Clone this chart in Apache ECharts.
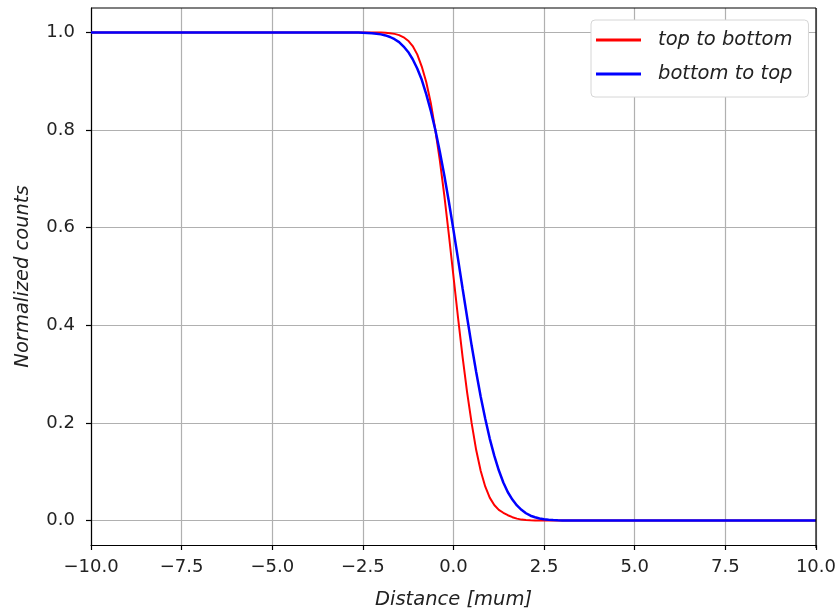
<!DOCTYPE html>
<html>
<head>
<meta charset="utf-8">
<script src="https://cdn.jsdelivr.net/npm/echarts@6/dist/echarts.min.js"></script>
<style>
  html, body { margin: 0; padding: 0; background: #fff; }
  #chart { width: 839px; height: 615px; }
</style>
</head>
<body>
<div id="chart"></div>
<script>
// Sample positions along the profile (µm): flat ends plus a fine step across the edge
const distance = [
  -10, -3, -2.875, -2.75, -2.625, -2.5, -2.375, -2.25, -2.125, -2, -1.875, -1.75, -1.625,
  -1.5, -1.375, -1.25, -1.125, -1, -0.875, -0.75, -0.625, -0.5, -0.375, -0.25, -0.125,
  0, 0.125, 0.25, 0.375, 0.5, 0.625, 0.75, 0.875, 1, 1.125, 1.25, 1.375, 1.5, 1.625,
  1.75, 1.875, 2, 2.125, 2.25, 2.375, 2.5, 2.625, 2.75, 2.875, 3, 10
];
// Normalized counts, scan from top to bottom
const topToBottom = [
  1, 1, 1, 1, 1, 1, 1, 0.9999, 0.9998, 0.9996, 0.9992, 0.9985, 0.997,
  0.9945, 0.990, 0.983, 0.972, 0.955, 0.930, 0.898, 0.855, 0.800, 0.737, 0.664, 0.584,
  0.500, 0.416, 0.336, 0.263, 0.200, 0.145, 0.102, 0.070, 0.047, 0.032, 0.022, 0.016, 0.011, 0.007,
  0.004, 0.002, 0.001, 0.0005, 0.0002, 0, 0, 0, 0, 0, 0, 0
];
// Normalized counts, scan from bottom to top
const bottomToTop = [
  1, 0.9999, 0.9999, 0.9998, 0.9997, 0.9994, 0.999, 0.9984, 0.9974, 0.996, 0.9938, 0.9906, 0.986,
  0.980, 0.971, 0.960, 0.945, 0.926, 0.903, 0.873, 0.839, 0.800, 0.755, 0.706, 0.652,
  0.595, 0.536, 0.476, 0.417, 0.359, 0.305, 0.254, 0.209, 0.168, 0.133, 0.103, 0.078, 0.058, 0.043,
  0.031, 0.022, 0.015, 0.010, 0.0068, 0.0044, 0.0028, 0.0018, 0.0011, 0.0006, 0.0004, 0
];
// Tick positions
const xTicks = [-10, -7.5, -5, -2.5, 0, 2.5, 5, 7.5, 10];
const yTicks = [0, 0.2, 0.4, 0.6, 0.8, 1.0];

const seriesNames = ['top to bottom', 'bottom to top'];

const pairs = (xs, ys) => xs.map((x, i) => [x, ys[i]]);
const fmt = v => v.toFixed(1).replace('-', '\u2212');

const textColor = '#222';
const font = 'DejaVu Sans';

const chart = echarts.init(document.getElementById('chart'), null, { renderer: 'canvas' });
chart.setOption({
  animation: false,
  backgroundColor: '#fff',
  grid: { left: 91, right: 23, top: 8, bottom: 67, containLabel: false },
  legend: {
    left: 591, top: 20,
    orient: 'vertical',
    itemWidth: 45, itemHeight: 3,
    itemGap: 14,
    icon: 'rect',
    padding: [10, 16, 13, 5],
    backgroundColor: '#fff',
    borderColor: '#d6d6d6', borderWidth: 1, borderRadius: 4,
    textStyle: { fontFamily: font, fontStyle: 'italic', fontSize: 19.5, color: textColor, padding: [0, 0, 0, 12] },
    data: seriesNames
  },
  xAxis: {
    type: 'value', min: -10, max: 10, interval: 2.5,
    name: 'Distance [mum]', nameLocation: 'middle', nameGap: 45,
    nameTextStyle: { fontFamily: font, fontStyle: 'italic', fontSize: 19.5, color: textColor },
    axisLine: { onZero: false, lineStyle: { color: '#000', width: 1.2 } },
    axisTick: { show: true, length: 5, lineStyle: { color: '#000', width: 1.2 }, customValues: xTicks },
    axisLabel: { margin: 13, fontFamily: font, fontSize: 18, color: textColor, formatter: fmt, customValues: xTicks },
    splitLine: { show: true, lineStyle: { color: '#b0b0b0', width: 1.2 } }
  },
  yAxis: {
    type: 'value', min: -0.05, max: 1.05,
    name: 'Normalized counts', nameLocation: 'middle', nameGap: 58,
    nameTextStyle: { fontFamily: font, fontStyle: 'italic', fontSize: 19.5, color: textColor },
    axisLine: { show: true, onZero: false, lineStyle: { color: '#000', width: 1.2 } },
    axisTick: { show: true, length: 5, lineStyle: { color: '#000', width: 1.2 }, customValues: yTicks },
    axisLabel: { margin: 16, fontFamily: font, fontSize: 18, color: textColor, formatter: v => v.toFixed(1), customValues: yTicks },
    splitLine: { show: true, lineStyle: { color: '#b0b0b0', width: 1.2 } }
  },
  series: [
    {
      name: seriesNames[0], type: 'line',
      data: pairs(distance, topToBottom),
      showSymbol: false, smooth: false,
      lineStyle: { color: '#ff0000', width: 2 }, itemStyle: { color: '#ff0000' }
    },
    {
      name: seriesNames[1], type: 'line',
      data: pairs(distance, bottomToTop),
      showSymbol: false, smooth: false,
      lineStyle: { color: '#0000ff', width: 2.5 }, itemStyle: { color: '#0000ff' }
    }
  ],
  graphic: [
    // closing frame on the top and right of the plot box
    { type: 'line', shape: { x1: 91, y1: 8, x2: 816, y2: 8 }, style: { stroke: '#000', lineWidth: 1.2 }, z: 10 },
    { type: 'line', shape: { x1: 816, y1: 8, x2: 816, y2: 548 }, style: { stroke: '#000', lineWidth: 1.2 }, z: 10 }
  ]
});
</script>
</body>
</html>
